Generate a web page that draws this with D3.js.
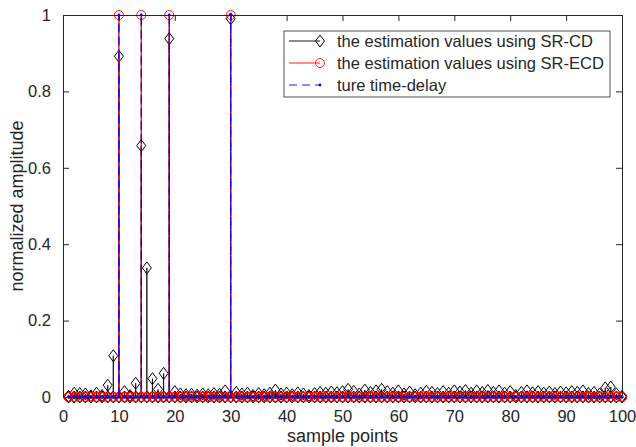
<!DOCTYPE html>
<html>
<head>
<meta charset="utf-8">
<script src="https://cdn.jsdelivr.net/npm/d3@7"></script>
<style>
  body { margin: 0; background: #fff; }
  text { font-family: "Liberation Sans", Arial, sans-serif; fill: #262626; }
</style>
</head>
<body>
<div id="chart"></div>
<script>
'use strict'

const samples = d3.range(1, 101)
const delayPositions = [10, 14, 19, 30]

const cdValues = [
  0.002, 0.010, 0.009, 0.008, 0.003, 0.010, 0.004, 0.031, 0.108, 0.892,
  0.014, 0.004, 0.036, 0.658, 0.338, 0.048, 0.020, 0.062, 0.938, 0.014,
  0.008, 0.006, 0.007, 0.005, 0.008, 0.006, 0.009, 0.007, 0.016, 0.990,
  0.012, 0.008, 0.010, 0.004, 0.009, 0.006, 0.010, 0.018, 0.008, 0.010,
  0.006, 0.011, 0.008, 0.004, 0.009, 0.012, 0.010, 0.013, 0.011, 0.014,
  0.020, 0.015, 0.008, 0.018, 0.012, 0.016, 0.020, 0.014, 0.010, 0.016,
  0.008, 0.013, 0.006, 0.010, 0.015, 0.012, 0.009, 0.014, 0.010, 0.016,
  0.013, 0.017, 0.010, 0.016, 0.012, 0.017, 0.012, 0.016, 0.010, 0.014,
  0.004, 0.012, 0.016, 0.011, 0.014, 0.010, 0.013, 0.009, 0.013, 0.011,
  0.014, 0.012, 0.016, 0.009, 0.012, 0.008, 0.024, 0.026, 0.008, 0.002
]
const ecdValues = samples.map(s => delayPositions.includes(s) ? 1 : 0)
const trueValues = samples.map(s => delayPositions.includes(s) ? 1 : 0)

const xTicks = d3.range(0, 101, 10)
const yTicks = [0, 0.2, 0.4, 0.6, 0.8, 1]

const legendLabels = [
  'the estimation values using SR-CD',
  'the estimation values using SR-ECD',
  'ture time-delay'
]

const width = 636
const height = 447
const margin = {top: 15, right: 14, bottom: 50, left: 63}

const svg = d3.select('#chart')
  .append('svg')
    .attr('width', width)
    .attr('height', height)

const x = d3.scaleLinear()
  .domain([0, 100])
  .range([margin.left, width - margin.right])

const y = d3.scaleLinear()
  .domain([0, 1])
  .range([height - margin.bottom, margin.top])

// each sample drawn as a spike: baseline -> value -> baseline
const spikes = values => samples.flatMap((s, i) => [[s, 0], [s, values[i]], [s, 0]])
const line = d3.line().x(d => x(d[0])).y(d => y(d[1]))

const plot = svg.append('g')

const diamond = (g, cx, cy) => g.append('path')
  .attr('d', `M${cx},${cy - 6}L${cx + 4.5},${cy}L${cx},${cy + 6}L${cx - 4.5},${cy}Z`)
  .attr('fill', 'none')
  .attr('stroke', '#000')
  .attr('stroke-width', 1)

// SR-CD
plot.append('path')
  .attr('d', line(spikes(cdValues)))
  .attr('fill', 'none')
  .attr('stroke', '#000')
  .attr('stroke-width', 0.8)
samples.forEach((s, i) => {
  diamond(plot, x(s), y(0))
  diamond(plot, x(s), y(cdValues[i]))
})

// SR-ECD
plot.append('path')
  .attr('d', line(spikes(ecdValues)))
  .attr('fill', 'none')
  .attr('stroke', '#ff0000')
  .attr('stroke-width', 0.9)
plot.selectAll('circle.ecd')
  .data(spikes(ecdValues))
  .join('circle')
    .attr('class', 'ecd')
    .attr('cx', d => x(d[0]))
    .attr('cy', d => y(d[1]))
    .attr('r', 4.5)
    .attr('fill', 'none')
    .attr('stroke', '#ff0000')
    .attr('stroke-width', 0.9)

// true time-delay
plot.append('path')
  .attr('d', line(spikes(trueValues)))
  .attr('fill', 'none')
  .attr('stroke', '#0000ff')
  .attr('stroke-width', 0.9)
  .attr('stroke-dasharray', '8,5')
plot.selectAll('circle.tru')
  .data(spikes(trueValues))
  .join('circle')
    .attr('class', 'tru')
    .attr('cx', d => x(d[0]))
    .attr('cy', d => y(d[1]))
    .attr('r', 1.4)
    .attr('fill', '#0000ff')

// axes, MATLAB style box with inward ticks
const styleAxis = g => {
  g.selectAll('.domain').attr('stroke', '#262626')
  g.selectAll('line').attr('stroke', '#262626')
  g.selectAll('text')
    .attr('fill', '#262626')
    .style('font-size', '16.5px')
    .style('font-family', '"Liberation Sans", Arial, sans-serif')
}

svg.append('g')
  .attr('transform', `translate(0,${y(0)})`)
  .call(d3.axisBottom(x).tickValues(xTicks).tickSize(-6).tickPadding(13).tickSizeOuter(0))
  .call(styleAxis)

svg.append('g')
  .attr('transform', `translate(0,${y(1)})`)
  .call(d3.axisTop(x).tickValues(xTicks).tickSize(-6).tickFormat('').tickSizeOuter(0))
  .call(styleAxis)

svg.append('g')
  .attr('transform', `translate(${x(0)},0)`)
  .call(d3.axisLeft(y).tickValues(yTicks).tickSize(-6).tickPadding(12).tickSizeOuter(0)
    .tickFormat(d => d === 0 || d === 1 ? d : d3.format('.1f')(d)))
  .call(styleAxis)

svg.append('g')
  .attr('transform', `translate(${x(100)},0)`)
  .call(d3.axisRight(y).tickValues(yTicks).tickSize(-6).tickFormat('').tickSizeOuter(0))
  .call(styleAxis)

svg.append('text')
  .attr('x', (x(0) + x(100)) / 2)
  .attr('y', height - 5)
  .attr('text-anchor', 'middle')
  .style('font-size', '18px')
  .text('sample points')

svg.append('text')
  .attr('transform', `translate(23,${(y(0) + y(1)) / 2}) rotate(-90)`)
  .attr('text-anchor', 'middle')
  .style('font-size', '18px')
  .text('normalized amplitude')

// legend
const legend = svg.append('g').attr('transform', 'translate(284,31)')
legend.append('rect')
  .attr('width', 326)
  .attr('height', 66)
  .attr('fill', '#fff')
  .attr('stroke', '#262626')
  .attr('stroke-width', 0.8)

const rowY = i => 10 + i * 22
const rows = legend.selectAll('g.row')
  .data(legendLabels)
  .join('g')
    .attr('class', 'row')
    .attr('transform', (d, i) => `translate(0,${rowY(i)})`)

rows.append('line')
  .attr('x1', 5).attr('x2', 36)
  .attr('stroke', (d, i) => ['#000', '#ff0000', '#0000ff'][i])
  .attr('stroke-width', 0.9)
  .attr('stroke-dasharray', (d, i) => i === 2 ? '8,5' : null)

diamond(legend, 36, rowY(0))
legend.append('circle')
  .attr('cx', 36).attr('cy', rowY(1)).attr('r', 4.5)
  .attr('fill', 'none').attr('stroke', '#ff0000').attr('stroke-width', 0.9)
legend.append('circle')
  .attr('cx', 36).attr('cy', rowY(2)).attr('r', 1.4)
  .attr('fill', '#0000ff')

rows.append('text')
  .attr('x', 53)
  .attr('dy', '0.35em')
  .style('font-size', '16.5px')
  .text(d => d)
</script>
</body>
</html>
